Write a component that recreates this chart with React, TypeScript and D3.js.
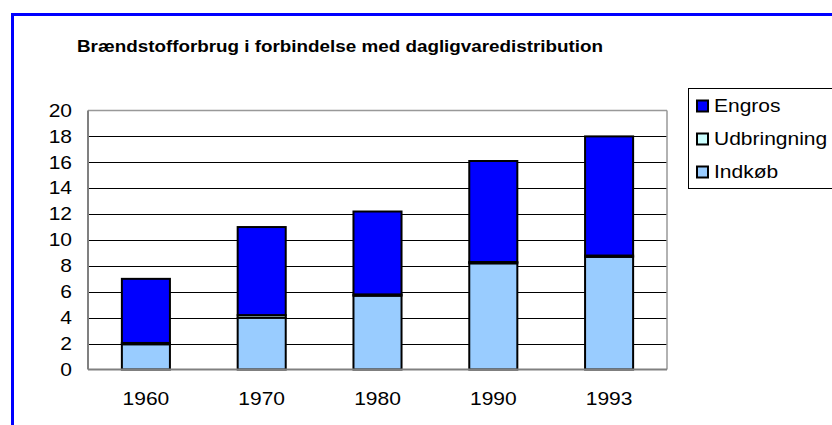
import React from "react";
import * as d3 from "d3";

const categories = ["1960", "1970", "1980", "1990", "1993"];
const indkob = [1.95, 4.0, 5.7, 8.2, 8.7];
const udbringning = [0.1, 0.2, 0.1, 0.1, 0.1];
const engros = [4.95, 6.8, 6.4, 7.8, 9.2];
const yTicks = [0, 2, 4, 6, 8, 10, 12, 14, 16, 18, 20];
const seriesNames = ["Indkøb", "Udbringning", "Engros"];
const seriesColors = ["#99CCFF", "#CCFFFF", "#0000FF"];
const legendOrder = ["Engros", "Udbringning", "Indkøb"];
const title = "Brændstofforbrug i forbindelse med dagligvaredistribution";

const W = 832;
const H = 425;
const plot = { left: 88, right: 667, top: 110.5, bottom: 369.5 };
const font = "Liberation Sans, Arial, sans-serif";
const SX = 1.2;

function T({ x, y, size, anchor = "start", weight = "normal", children }: any) {
  return (
    <text
      transform={`translate(${x},${y}) scale(${SX},1)`}
      fontSize={size}
      fontWeight={weight}
      textAnchor={anchor}
      fill="#000"
    >
      {children}
    </text>
  );
}

export default function App() {
  const x = d3
    .scaleBand<string>()
    .domain(categories)
    .range([plot.left, plot.right])
    .paddingInner(0.585)
    .paddingOuter(0.2925);
  const y = d3.scaleLinear().domain([0, 20]).range([plot.bottom, plot.top]);

  const rows = categories.map((c, i) => ({
    cat: c,
    Indkøb: indkob[i],
    Udbringning: udbringning[i],
    Engros: engros[i],
  }));
  const stacked = d3.stack<any>().keys(seriesNames)(rows);
  const colorOf = (name: string) => seriesColors[seriesNames.indexOf(name)];

  return (
    <svg
      width={W}
      height={H}
      style={{ position: "absolute", left: 0, top: 0, background: "#fff" }}
      fontFamily={font}
    >
      <rect x={0} y={0} width={W} height={H} fill="#fff" />
      <rect x={12.5} y={14.5} width={900} height={500} fill="none" stroke="#0000FF" strokeWidth={3} />
      <T x={77} y={52} size={15.7} weight="bold">
        {title}
      </T>

      {yTicks.map((t) =>
        t > 0 && t < 20 ? (
          <line key={"g" + t} x1={plot.left} x2={plot.right} y1={Math.round(y(t)) + 0.5} y2={Math.round(y(t)) + 0.5} stroke="#000" strokeWidth={1} />
        ) : null
      )}
      <line x1={plot.left} x2={plot.right} y1={plot.top} y2={plot.top} stroke="#999" strokeWidth={1.5} />
      <line x1={plot.right} x2={plot.right} y1={plot.top} y2={plot.bottom} stroke="#999" strokeWidth={1.5} />

      {stacked.map((s) =>
        s.map((d, i) => (
          <rect
            key={s.key + i}
            x={x(categories[i])!}
            y={y(d[1])}
            width={x.bandwidth()}
            height={y(d[0]) - y(d[1])}
            fill={colorOf(s.key)}
            stroke="#000"
            strokeWidth={2}
          />
        ))
      )}

      <line x1={plot.left} x2={plot.left} y1={plot.top} y2={plot.bottom} stroke="#808080" strokeWidth={2} />
      <line x1={plot.left} x2={plot.right} y1={plot.bottom} y2={plot.bottom} stroke="#808080" strokeWidth={2} />

      {yTicks.map((t) => (
        <T key={"t" + t} x={72} y={y(t) + 6.2} size={17.5} anchor="end">
          {t}
        </T>
      ))}
      {categories.map((c) => (
        <T key={"c" + c} x={x(c)! + x.bandwidth() / 2} y={405} size={17.5} anchor="middle">
          {c}
        </T>
      ))}

      <rect x={688.5} y={88.5} width={200} height={100} fill="#fff" stroke="#000" strokeWidth={1} />
      {legendOrder.map((name, i) => (
        <g key={name} transform={`translate(0, ${112 + i * 33})`}>
          <rect x={697} y={-11.5} width={11} height={11} fill={colorOf(name)} stroke="#000" strokeWidth={2} />
          <T x={714} y={0} size={17.5}>
            {name}
          </T>
        </g>
      ))}
    </svg>
  );
}
